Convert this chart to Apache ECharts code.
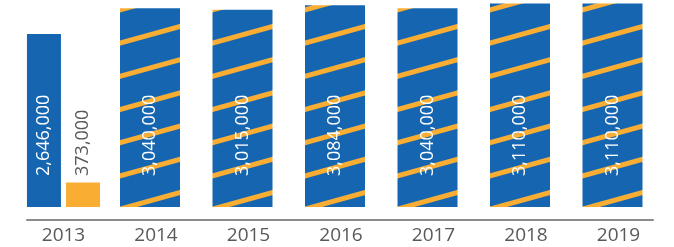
<!DOCTYPE html>
<html>
<head>
<meta charset="utf-8">
<title>bar</title>
<script src="https://cdn.jsdelivr.net/npm/echarts@6/dist/echarts.min.js"></script>
<style>
  html, body { margin: 0; padding: 0; background: #fff; }
  #container { width: 674px; height: 247px; }
</style>
</head>
<body>
<div id="container"></div>
<script>
// data
var years = ['2013', '2014', '2015', '2016', '2017', '2018', '2019'];
var blue2013 = [2646000, '-', '-', '-', '-', '-', '-'];
var orange2013 = [373000, '-', '-', '-', '-', '-', '-'];
var hatched = ['-', 3040000, 3015000, 3084000, 3040000, 3110000, 3110000];

var BLUE = '#1565b0';
var ORANGE = '#f9ad33';
var yMax = 3150000;
var HATCH_W = 60;
var HATCH_ANGLE = 0.27;   // stripes rise to the right
var HATCH_PHASE = 7.3;    // y of a stripe edge at each bar's left side

// stripe tile: blue with one orange band, repeated and rotated
function makeStripeTile() {
    var c = document.createElement('canvas');
    c.width = 8;
    c.height = 32;
    var ctx = c.getContext('2d');
    ctx.fillStyle = BLUE;
    ctx.fillRect(0, 0, 8, 32);
    ctx.fillStyle = ORANGE;
    ctx.fillRect(0, 0, 8, 5);
    return c;
}
var stripeTile = makeStripeTile();

function fmtNum(v) {
    return Number(v).toLocaleString('en-US');
}

function barLabel(color) {
    return {
        show: true,
        position: 'insideBottom',
        distance: 31,
        rotate: 90,
        align: 'left',
        verticalAlign: 'middle',
        color: color,
        fontFamily: 'Open Sans',
        fontSize: 18,
        formatter: function (p) { return fmtNum(p.value); }
    };
}

function renderHatched(params, api) {
    var i = api.value(0);
    var v = api.value(1);
    var top = api.coord([i, v]);
    var base = api.coord([i, 0]);
    var left = top[0] - HATCH_W / 2;
    return {
        type: 'group',
        children: [
            {
                type: 'rect',
                shape: { x: left, y: top[1], width: HATCH_W, height: base[1] - top[1] },
                style: {
                    fill: {
                        image: stripeTile,
                        repeat: 'repeat',
                        x: left,
                        y: HATCH_PHASE,
                        rotation: -HATCH_ANGLE
                    }
                }
            },
            {
                type: 'text',
                x: top[0],
                y: base[1] - 31,
                rotation: Math.PI / 2,
                style: {
                    text: fmtNum(v),
                    fill: '#ffffff',
                    fontFamily: 'Open Sans',
                    fontSize: 18,
                    align: 'left',
                    verticalAlign: 'middle'
                }
            }
        ]
    };
}

function getOption() {
    var hatchedData = [];
    hatched.forEach(function (v, i) {
        if (v !== '-') hatchedData.push([i, v]);
    });

    var option = {
        animation: false,
        grid: [
            // 0: axis line only
            { left: 27, right: 21, top: 1, bottom: 27 },
            // 1: hatched bars 2014-2019
            { left: 11.25, right: 15.25, top: 1, bottom: 40 },
            // 2: 2013 pair + year labels
            { left: 17.25, right: 9.25, top: 1, bottom: 40 }
        ],
        xAxis: [
            {
                gridIndex: 0, type: 'category', data: years,
                axisLine: { lineStyle: { color: '#8c8c8c', width: 2 } },
                axisTick: { show: false },
                axisLabel: { show: false }
            },
            {
                gridIndex: 1, type: 'category', data: years,
                axisLine: { show: false },
                axisTick: { show: false },
                axisLabel: { show: false }
            },
            {
                gridIndex: 2, type: 'category', data: years,
                axisLine: { show: false },
                axisTick: { show: false },
                axisLabel: {
                    margin: 19,
                    color: '#595959',
                    fontFamily: 'Open Sans',
                    fontSize: 19
                }
            }
        ],
        yAxis: [
            { gridIndex: 0, type: 'value', min: 0, max: yMax, show: false },
            { gridIndex: 1, type: 'value', min: 0, max: yMax, show: false },
            { gridIndex: 2, type: 'value', min: 0, max: yMax, show: false }
        ],
        series: [
            {
                type: 'custom',
                xAxisIndex: 1, yAxisIndex: 1,
                data: hatchedData,
                encode: { x: 0, y: 1 },
                renderItem: renderHatched
            },
            {
                type: 'bar',
                xAxisIndex: 2, yAxisIndex: 2,
                data: blue2013,
                barWidth: 34,
                barGap: '15%',
                itemStyle: { color: BLUE },
                label: barLabel('#ffffff')
            },
            {
                type: 'bar',
                xAxisIndex: 2, yAxisIndex: 2,
                data: orange2013,
                barWidth: 34,
                barGap: '15%',
                itemStyle: { color: ORANGE },
                label: barLabel('#595959')
            }
        ]
    };
    return option;
}

var myChart = echarts.init(document.getElementById('container'));
myChart.setOption(getOption());
</script>
</body>
</html>
